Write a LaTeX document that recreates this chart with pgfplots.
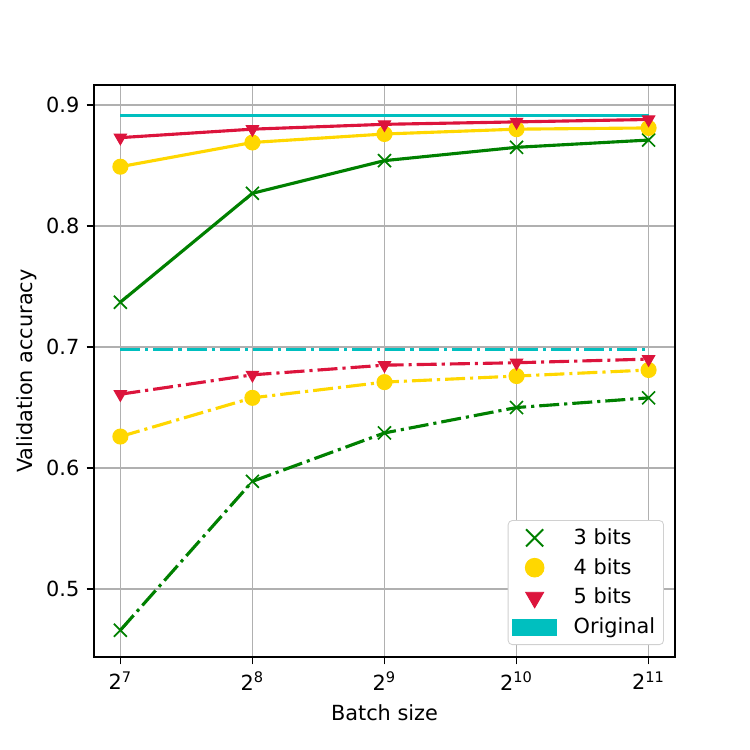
\documentclass[border=0pt]{standalone}
\usepackage{pgfplots}
\pgfplotsset{compat=1.18}
\usepackage{fontspec}
\setmainfont{DejaVu Sans}
\definecolor{mgreen}{HTML}{008000}
\definecolor{mgold}{HTML}{FFD700}
\definecolor{mcrimson}{HTML}{DC143C}
\definecolor{mcyan}{HTML}{00BFBF}
\definecolor{mgrid}{HTML}{B0B0B0}
\pgfplotsset{
  markleg/.style={legend image code/.code={\draw[##1] plot coordinates {(0.37cm,0cm)};}},
  rectleg/.style={legend image code/.code={\fill[##1, sharp corners] (0cm,-0.13cm) rectangle (0.74cm,0.14cm);}},
}
\begin{document}
\begin{tikzpicture}
\begin{axis}[
  name=ax,
  scale only axis,
  width=278.9pt, height=274.6pt,
  xmin=6.8, xmax=11.2,
  ymin=0.4438, ymax=0.9165,
  xtick={7,8,9,10,11},
  xticklabels={2\textsuperscript{7},2\textsuperscript{8},2\textsuperscript{9},2\textsuperscript{10},2\textsuperscript{11}},
  ytick={0.5,0.6,0.7,0.8,0.9},
  yticklabel style={/pgf/number format/fixed,/pgf/number format/precision=1,/pgf/number format/fixed zerofill},
  /pgf/number format/assume math mode=true,
  tick align=outside,
  major tick length=3.5pt,
  tick style={black, line width=0.8pt},
  axis line style={line width=0.8pt},
  grid=major,
  grid style={mgrid, line width=0.8pt},
  xtick pos=bottom, ytick pos=left,
  xlabel={Batch size},
  ylabel={Validation accuracy},
  ylabel style={yshift=-2.5pt},
  label style={font=\fontsize{10}{12}\selectfont},
  tick label style={font=\fontsize{10}{12}\selectfont},
  legend style={at={(0.981,0.021)}, anchor=south east, draw=mgrid!60, rounded corners=2pt, fill=white, font=\fontsize{10}{12}\selectfont, row sep=1.2pt, column sep=6pt, inner xsep=2pt, inner ysep=1.8pt},
  legend cell align=left,
]
% Original
\addplot[mcyan, line width=1.5pt, forget plot] coordinates {(7,0.891) (8,0.891) (9,0.891) (10,0.891) (11,0.891)};
\addplot[mcyan, line width=1.5pt, dash pattern=on 9.6pt off 2.4pt on 1.5pt off 2.4pt, forget plot] coordinates {(7,0.698) (8,0.698) (9,0.698) (10,0.698) (11,0.698)};
% solid group
\addplot[mgreen, line width=1.5pt, mark=x, mark size=4.4pt, mark options={solid, line width=0.8pt}, forget plot] coordinates {(7,0.737) (8,0.827) (9,0.854) (10,0.865) (11,0.871)};
\addplot[mgold, line width=1.5pt, mark=*, mark size=3.1pt, mark options={solid, draw=mgold, fill=mgold}, forget plot] coordinates {(7,0.849) (8,0.869) (9,0.876) (10,0.880) (11,0.881)};
\addplot[mcrimson, line width=1.5pt, mark=triangle*, mark size=3.4pt, mark options={solid, rotate=180, draw=mcrimson, fill=mcrimson, line width=0.5pt}, forget plot] coordinates {(7,0.873) (8,0.880) (9,0.884) (10,0.886) (11,0.888)};
% dash-dot group
\addplot[mgreen, line width=1.5pt, dash pattern=on 9.6pt off 2.4pt on 1.5pt off 2.4pt, mark=x, mark size=4.4pt, mark options={solid, line width=0.8pt}, forget plot] coordinates {(7,0.466) (8,0.589) (9,0.629) (10,0.650) (11,0.658)};
\addplot[mgold, line width=1.5pt, dash pattern=on 9.6pt off 2.4pt on 1.5pt off 2.4pt, mark=*, mark size=3.1pt, mark options={solid, draw=mgold, fill=mgold}, forget plot] coordinates {(7,0.626) (8,0.658) (9,0.671) (10,0.676) (11,0.681)};
\addplot[mcrimson, line width=1.5pt, dash pattern=on 9.6pt off 2.4pt on 1.5pt off 2.4pt, mark=triangle*, mark size=3.4pt, mark options={solid, rotate=180, draw=mcrimson, fill=mcrimson, line width=0.5pt}, forget plot] coordinates {(7,0.661) (8,0.677) (9,0.685) (10,0.687) (11,0.690)};
% legend
\addlegendimage{markleg, only marks, mgreen, mark=x, mark size=5.8pt, mark options={line width=0.9pt}}
\addlegendentry{3 bits}
\addlegendimage{markleg, only marks, mgold, mark=*, mark size=4.5pt, mark options={draw=mgold, fill=mgold}}
\addlegendentry{4 bits}
\addlegendimage{markleg, only marks, mcrimson, mark=triangle*, mark size=5pt, mark options={rotate=180, draw=mcrimson, fill=mcrimson}}
\addlegendentry{5 bits}
\addlegendimage{rectleg, mcyan, fill=mcyan}
\addlegendentry{Original}
\end{axis}
\path ([xshift=-45.1pt,yshift=-44.6pt]ax.south west) rectangle ([xshift=36pt,yshift=40.8pt]ax.north east);
\end{tikzpicture}
\end{document}
